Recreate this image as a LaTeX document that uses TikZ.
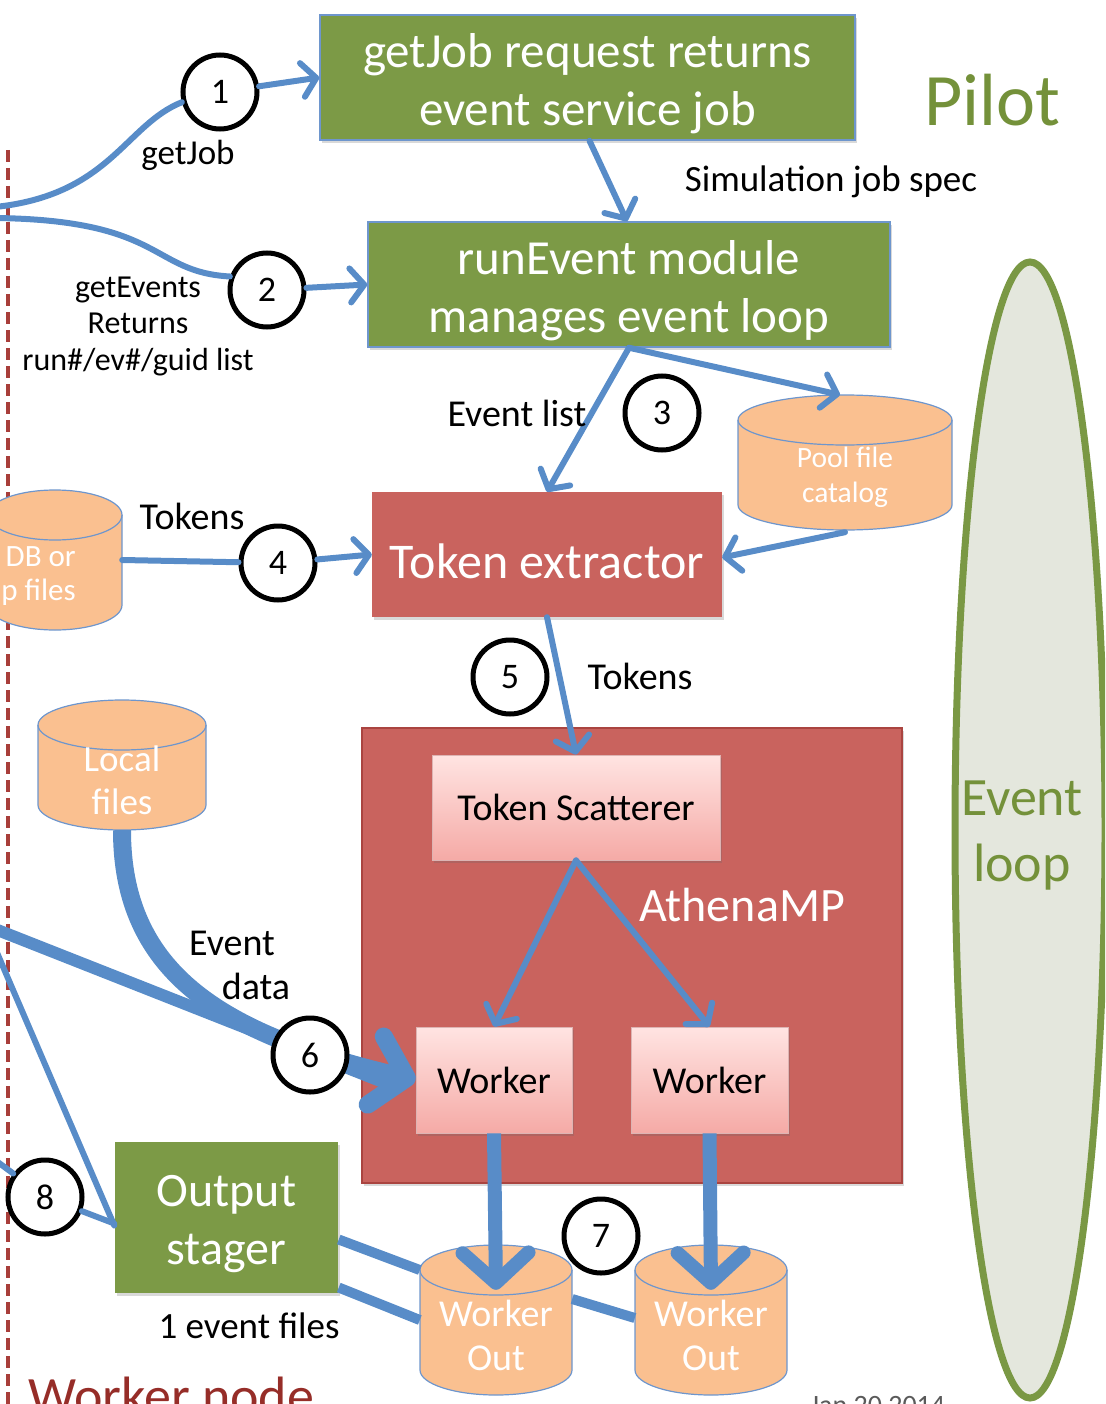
\documentclass[tikz,border=0pt]{standalone}
\usepackage{fontspec}
\setmainfont{Carlito}
\usetikzlibrary{arrows.meta,shapes.geometric,shadows}
\definecolor{arrowblue}{RGB}{88,140,200}
\definecolor{boxgreen}{RGB}{124,154,70}
\definecolor{boxedge}{RGB}{110,150,205}
\definecolor{boxred}{RGB}{201,99,94}
\definecolor{rededge}{RGB}{170,68,64}
\definecolor{peach}{RGB}{250,192,144}
\definecolor{pinktop}{RGB}{255,228,226}
\definecolor{pinkbot}{RGB}{245,170,166}
\definecolor{loopfill}{RGB}{228,231,221}
\definecolor{loopgreen}{RGB}{122,152,68}
\definecolor{titlegreen}{RGB}{116,145,58}
\definecolor{nodered}{RGB}{150,45,40}
\definecolor{dashred}{RGB}{168,62,58}
\definecolor{dategray}{RGB}{90,90,90}
\tikzset{
  softshadow/.style={drop shadow={shadow xshift=2pt, shadow yshift=-3pt, opacity=0.25, fill=black!60}},
  greenbox/.style={draw=boxedge, line width=1.5pt, fill=boxgreen, inner sep=0pt, softshadow},
  redbox/.style={fill=boxred, inner sep=0pt, softshadow},
  boxtext/.style={text=white, align=center, inner sep=0pt},
  pinkbox/.style={top color=pinktop, bottom color=pinkbot, draw=rededge!40, line width=0.8pt, text=black, align=center, inner sep=0pt, font=\fontsize{38}{44}\selectfont, softshadow},
  numcirc/.style={circle, draw=black, line width=5pt, fill=white, minimum size=74pt, inner sep=0pt, font=\fontsize{36}{40}\selectfont},
  lbl/.style={text=black, align=center, inner sep=0pt},
  conn/.style={draw=arrowblue, line width=6pt, line cap=round, line join=round},
  tipn/.style={-{Straight Barb[length=14pt,width=34pt,round]}},
  thick arrow/.style={draw=arrowblue, line width=14pt, -{Straight Barb[length=30pt,width=66pt,round]}},
  drumbody/.style={fill=peach, draw=boxedge, line width=1.2pt},
  drumedge/.style={draw=boxedge, line width=1.2pt},
  drumtext/.style={text=white, align=center, inner sep=0pt},
  drumframe/.style={inner sep=0pt}
}
% #1 name, #2 cx, #3 top ellipse centre y, #4 half width, #5 bottom ellipse centre y, #6 ry, #7 font, #8 text
\newcommand\drum[8]{%
  \path[drumbody] ({#2-#4},#3) -- ({#2-#4},#5) arc[start angle=180,end angle=0,x radius=#4,y radius=#6] -- ({#2+#4},#3) arc[start angle=0,end angle=-180,x radius=#4,y radius=#6] -- cycle;
  \draw[drumedge] ({#2-#4},#3) arc[start angle=180,end angle=0,x radius=#4,y radius=#6];
  \node[drumframe, minimum width={2*#4}, minimum height={#5-#3+2*#6}] (#1) at (#2,{(#3+#5)/2}) {};
  \node[drumtext, font=#7] (#1-t) at (#2,{(#3+#5)/2+0.6*#6}) {#8};
}
\begin{document}
\begin{tikzpicture}[x=1pt,y=-1pt]
\useasboundingbox (0,0) rectangle (1105,1404);
\clip (0,0) rectangle (1105,1404);

% worker node boundary
\draw[dashred, line width=4pt, dash pattern=on 12pt off 6pt] (8,150) -- (8,1410);

% event loop
\node[ellipse, draw=loopgreen, line width=7pt, fill=loopfill, minimum width=150pt, minimum height=1136pt, inner sep=0pt] (loop) at (1030,830) {};
\node[text=titlegreen, align=center, inner sep=0pt, font=\fontsize{54}{66}\selectfont] (loop-t) at (1022,836) {Event\\loop};

% titles
\node[text=titlegreen, font=\fontsize{74}{80}\selectfont, inner sep=0pt] (pilot) at (992,100) {Pilot};
\node[text=nodered, font=\fontsize{54}{60}\selectfont, anchor=base west, inner sep=0pt] (wnode) at (28,1414) {Worker node};
\node[text=dategray, font=\fontsize{28}{32}\selectfont, anchor=base west, inner sep=0pt] (date) at (810,1414) {Jan 20 2014};

% boxes
\node[greenbox, minimum width=535pt, minimum height=125pt] (box1) at (587.5,77.5) {};
\node[boxtext, font=\fontsize{49}{58}\selectfont] (box1-t) at (587.5,84) {getJob request returns\\event service job};
\node[greenbox, minimum width=522pt, minimum height=125pt] (box2) at (629,284.5) {};
\node[boxtext, font=\fontsize{49}{58}\selectfont] (box2-t) at (629,291) {runEvent module\\manages event loop};
\node[redbox, minimum width=350pt, minimum height=125pt] (tokex) at (547,554.5) {};
\node[boxtext, font=\fontsize{50}{56}\selectfont] (tokex-t) at (547,561) {Token extractor};
\node[fill=boxred, draw=rededge, line width=2pt, minimum width=540pt, minimum height=455pt, inner sep=0pt, softshadow] (athena) at (632,955.5) {};
\node[text=white, font=\fontsize{48}{52}\selectfont, inner sep=0pt] (athlbl) at (742,905) {AthenaMP};
\node[pinkbox, minimum width=288pt, minimum height=105pt] (scat) at (576,807.5) {Token Scatterer};
\node[pinkbox, minimum width=156pt, minimum height=106pt] (work1) at (494,1080) {Worker};
\node[pinkbox, minimum width=157pt, minimum height=106pt] (work2) at (709.5,1080) {Worker};
\node[greenbox, draw=none, minimum width=223pt, minimum height=151pt] (stager) at (226.5,1217.5) {};
\node[boxtext, font=\fontsize{48}{58}\selectfont] (stager-t) at (226.5,1224) {Output\\stager};

% cylinders
\drum{pool}{845}{420}{107}{505}{25}{\fontsize{29.5}{35}\selectfont}{Pool file\\catalog}
\drum{db}{55}{515}{67}{605}{25}{\fontsize{31}{34}\selectfont}{}
\node[drumtext, font=\fontsize{31}{34}\selectfont, anchor=east, align=right] (dbtext) at (76,576) {DB or\\p files};
\drum{local}{122}{725}{84}{805}{25}{\fontsize{37}{43}\selectfont}{Local\\files}
\drum{wout1}{496}{1270}{76}{1370}{25}{\fontsize{38}{44}\selectfont}{Worker\\Out}
\drum{wout2}{711}{1270}{76}{1370}{25}{\fontsize{38}{44}\selectfont}{Worker\\Out}

% numbered circles on connectors
\node[numcirc] (c1) at (220,92) {1};
\node[numcirc] (c2) at (267,290) {2};
\node[numcirc] (c4) at (278,563) {4};
\node[numcirc] (c8) at (45,1197) {8};

% free ends at the picture edge
\coordinate (L1) at (-5,207);
\coordinate (L2) at (-5,218);
\coordinate (L3) at (-5,929);
\coordinate (L4) at (-5,948);
\coordinate (L5) at (-5,1160);

% connectors
\draw[conn] (L1) .. controls (110,195) and (125,125) .. (c1.195);
\draw[conn,tipn] (c1) -- (box1.west);
\draw[conn] (L2) .. controls (165,220) and (150,272) .. (c2.160);
\draw[conn,tipn] (c2) -- (box2.west);
\draw[conn,tipn] ([xshift=2pt]box1.south) -- ([xshift=-2pt]box2.north);
\draw[conn,tipn] (box2.south) -- (tokex.north);
\draw[conn,tipn] (box2.south) -- ([xshift=-5pt]pool.north);
\draw[conn,tipn] ([yshift=-2pt]pool.south) -- ([yshift=-3pt]tokex.east);
\draw[conn] (db.east) -- (c4);
\draw[conn,tipn] (c4) -- (tokex.west);
\draw[conn,tipn] (tokex.south) -- (scat.north);
\draw[conn,tipn] (scat.south) -- (work1.north);
\draw[conn,tipn] (scat.south) -- (work2.north);
\draw[draw=arrowblue, line width=12pt] (L3) -- ([xshift=-20pt,yshift=-7pt]work1.west);
\draw[draw=arrowblue, line width=18pt, -{Straight Barb[length=32pt,width=70pt,round]}] (local.south) .. controls (122,975) and (225,1035) .. (work1.west);
\draw[conn] (L4) -- ([yshift=-8pt]stager.west);
\draw[conn] (L5) -- (c8);
\draw[conn] (c8) -- ([yshift=-6pt]stager.west);
\draw[draw=arrowblue, line width=10pt] ([yshift=-22pt]stager.east) -- ([yshift=50pt]wout1.west);
\draw[draw=arrowblue, line width=10pt] ([yshift=-70pt]stager.east) -- ([yshift=0pt]wout1.west);
\draw[draw=arrowblue, line width=10pt] ([yshift=21pt]wout1.east) -- ([yshift=2pt]wout2.west);
\draw[thick arrow] (work1.south) -- ([yshift=-45pt]wout1.north);
\draw[thick arrow] (work2.south) -- ([yshift=-45pt]wout2.north);

% other numbered circles
\node[numcirc] (c3) at (662,413) {3};
\node[numcirc] (c5) at (510,677) {5};
\node[numcirc] (c6) at (310,1055) {6};
\node[numcirc] (c7) at (601,1236) {7};

% labels
\node[lbl, font=\fontsize{35}{40}\selectfont] (ljob) at (188,155) {getJob};
\node[lbl, font=\fontsize{32}{36.5}\selectfont] (levents) at (138,326) {getEvents\\Returns\\run\#/ev\#/guid list};
\node[lbl, font=\fontsize{37}{42}\selectfont] (lsim) at (831,182) {Simulation job spec};
\node[lbl, font=\fontsize{38}{42}\selectfont] (levl) at (517,413) {Event list};
\node[lbl, font=\fontsize{38}{42}\selectfont] (ltok1) at (192,516) {Tokens};
\node[lbl, font=\fontsize{38}{42}\selectfont] (ltok2) at (640,676) {Tokens};
\node[lbl, font=\fontsize{38}{42}\selectfont] (lev1) at (232,943) {Event};
\node[lbl, font=\fontsize{38}{42}\selectfont] (lev2) at (256,986) {data};
\node[lbl, font=\fontsize{37}{42}\selectfont] (lone) at (249,1326) {1 event files};
\end{tikzpicture}
\end{document}
